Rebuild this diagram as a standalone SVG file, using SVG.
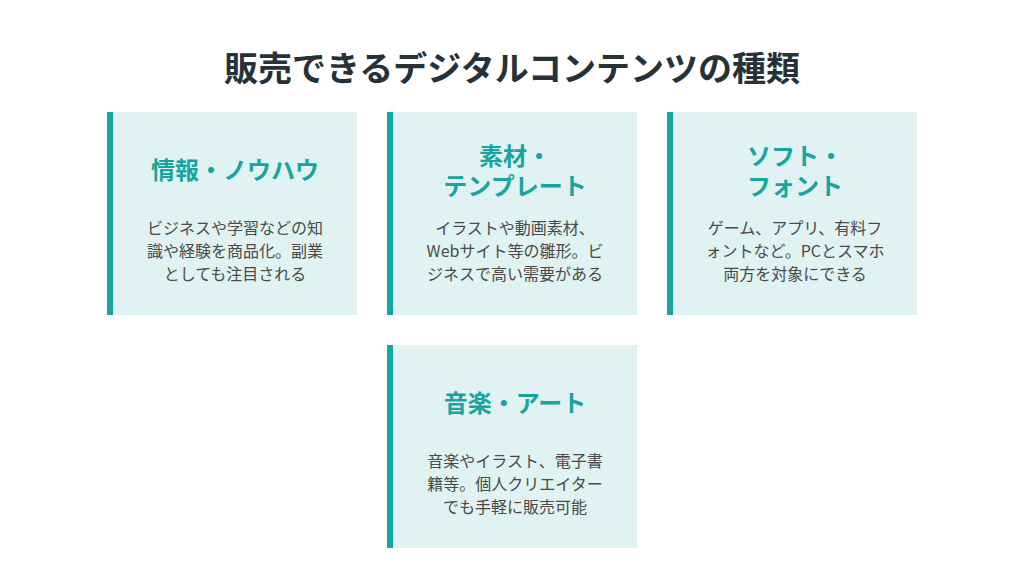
<svg xmlns="http://www.w3.org/2000/svg" width="1024" height="576" viewBox="0 0 1024 576">
<style>
text{font-family:"Noto Sans CJK JP","Noto Sans",sans-serif;text-anchor:middle;dominant-baseline:central}
.title{font-size:34px;font-weight:700;fill:#263238}
.card{fill:#e0f2f1}
.bar{fill:#14a6a2}
.head{font-size:24px;font-weight:700;fill:#16a5a0}
.body{font-size:16px;fill:#4a4a4a}
</style>
<rect width="1024" height="576" fill="#ffffff"/>
<text class="title" x="512" y="66">販売できるデジタルコンテンツの種類</text>
<g id="connectors"></g>
<g id="node-info">
<rect class="card" x="107" y="112" width="250" height="203"/>
<rect class="bar" x="107" y="112" width="6" height="203"/>
<text class="head" x="235" y="168">情報・ノウハウ</text>
<text class="body" x="235" y="227">ビジネスや学習などの知</text>
<text class="body" x="235" y="250">識や経験を商品化。副業</text>
<text class="body" x="235" y="273">としても注目される</text>
</g>
<g id="node-material">
<rect class="card" x="387" y="112" width="250" height="203"/>
<rect class="bar" x="387" y="112" width="6" height="203"/>
<text class="head" x="515" y="154"><tspan x="515" y="154">素材・</tspan><tspan x="515" y="184">テンプレート</tspan></text>
<text class="body" x="515" y="227">イラストや動画素材、</text>
<text class="body" x="515" y="250">Webサイト等の雛形。ビ</text>
<text class="body" x="515" y="273">ジネスで高い需要がある</text>
</g>
<g id="node-soft">
<rect class="card" x="667" y="112" width="250" height="203"/>
<rect class="bar" x="667" y="112" width="6" height="203"/>
<text class="head" x="795" y="154"><tspan x="795" y="154">ソフト・</tspan><tspan x="795" y="184">フォント</tspan></text>
<text class="body" x="795" y="227">ゲーム、アプリ、有料フ</text>
<text class="body" x="795" y="250">ォントなど。PCとスマホ</text>
<text class="body" x="795" y="273">両方を対象にできる</text>
</g>
<g id="node-music">
<rect class="card" x="387" y="345" width="250" height="203"/>
<rect class="bar" x="387" y="345" width="6" height="203"/>
<text class="head" x="515" y="401">音楽・アート</text>
<text class="body" x="515" y="460">音楽やイラスト、電子書</text>
<text class="body" x="515" y="483">籍等。個人クリエイター</text>
<text class="body" x="515" y="506">でも手軽に販売可能</text>
</g>
</svg>
